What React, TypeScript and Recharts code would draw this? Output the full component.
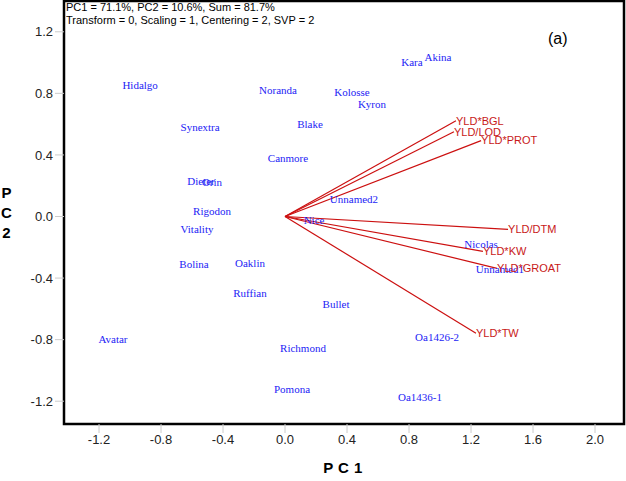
import { ReferenceArea, ReferenceLine, Scatter, ScatterChart, XAxis, YAxis } from "recharts";

const genotypes = [
  "Hidalgo", "Noranda", "Kolosse", "Kyron", "Kara", "Akina", "Synextra", "Blake", "Canmore",
  "Dieter", "Orin", "Rigodon", "Unnamed2", "Nice", "Vitality", "Bolina", "Oaklin", "Ruffian",
  "Bullet", "Nicolas", "Unnamed1", "Avatar", "Richmond", "Oa1426-2", "Pomona", "Oa1436-1",
];
const genoPC1 = [
  -0.935, -0.045, 0.432, 0.561, 0.819, 0.987, -0.548, 0.161, 0.019,
  -0.542, -0.471, -0.471, 0.445, 0.187, -0.568, -0.587, -0.226, -0.226,
  0.329, 1.265, 1.387, -1.11, 0.116, 0.981, 0.045, 0.871,
];
const genoPC2 = [
  0.855, 0.823, 0.81, 0.732, 1.005, 1.037, 0.583, 0.603, 0.376,
  0.227, 0.22, 0.032, 0.11, -0.026, -0.084, -0.311, -0.305, -0.499,
  -0.57, -0.181, -0.343, -0.797, -0.855, -0.784, -1.121, -1.173,
];

const traits = ["YLD*BGL", "YLD/LOD", "YLD*PROT", "YLD/DTM", "YLD*KW", "YLD*GROAT", "YLD*TW"];
const traitPC1 = [1.103, 1.09, 1.265, 1.439, 1.277, 1.368, 1.232];
const traitPC2 = [0.622, 0.551, 0.493, -0.084, -0.227, -0.337, -0.758];

const xTicks = [-1.2, -0.8, -0.4, 0.0, 0.4, 0.8, 1.2, 1.6, 2.0];
const yTicks = [-1.2, -0.8, -0.4, 0.0, 0.4, 0.8, 1.2];
const X_MIN = -1.426;
const X_MAX = 2.187;
const Y_MIN = -1.348;
const Y_MAX = 1.4;

const genoData = genotypes.map((name, i) => ({ name, x: genoPC1[i], y: genoPC2[i] }));
const traitData = traits.map((name, i) => ({ name, x: traitPC1[i], y: traitPC2[i] }));

const tickStyle = { fontFamily: "Liberation Sans, Arial, sans-serif", fontSize: 13, fill: "#222" };

function GenoLabel(props: any) {
  const { cx, cy, payload } = props;
  return (
    <text x={cx} y={cy} textAnchor="middle" dy="0.35em" fontFamily="Liberation Serif, Times New Roman, serif" fontSize={11} fill="#2323f5">
      {payload.name}
    </text>
  );
}

function TraitLabel(props: any) {
  const { cx, cy, payload } = props;
  return (
    <text x={cx} y={cy} textAnchor="start" dy="0.35em" fontFamily="Liberation Sans, Arial, sans-serif" fontSize={11} fill="#c81818">
      {payload.name}
    </text>
  );
}

export default function App() {
  return (
    <div style={{ position: "absolute", left: 0, top: 0, width: 626, height: 481, background: "#fff" }}>
      <ScatterChart width={626} height={481} margin={{ top: 1, right: 2, left: 0, bottom: 0 }}>
        <XAxis
          type="number"
          dataKey="x"
          domain={[X_MIN, X_MAX]}
          ticks={xTicks}
          tickFormatter={(v: number) => v.toFixed(1)}
          axisLine={false}
          tickLine={{ stroke: "#ccc" }}
          tickSize={9}
          tick={tickStyle}
          height={57}
          allowDataOverflow
        />
        <YAxis
          type="number"
          dataKey="y"
          domain={[Y_MIN, Y_MAX]}
          ticks={yTicks}
          tickFormatter={(v: number) => v.toFixed(1)}
          axisLine={false}
          tickLine={{ stroke: "#ccc" }}
          tickSize={9}
          tick={tickStyle}
          width={64}
          allowDataOverflow
        />
        <ReferenceArea x1={X_MIN} x2={X_MAX} y1={Y_MIN} y2={Y_MAX} fill="none" stroke="#000" strokeWidth={2.5} fillOpacity={0} />
        {traitData.map((t) => (
          <ReferenceLine
            key={t.name}
            segment={[{ x: 0, y: 0 }, { x: t.x, y: t.y }]}
            stroke="#cc1010"
            strokeWidth={1.2}
            ifOverflow="visible"
          />
        ))}
        <Scatter data={genoData} shape={GenoLabel} isAnimationActive={false} />
        <Scatter data={traitData} shape={TraitLabel} isAnimationActive={false} />
      </ScatterChart>
      <div style={{ position: "absolute", left: 66, top: 1, fontFamily: "Liberation Sans, Arial, sans-serif", fontSize: 11, lineHeight: "13px", color: "#000" }}>
        PC1 = 71.1%, PC2 = 10.6%, Sum = 81.7%
        <br />
        Transform = 0, Scaling = 1, Centering = 2, SVP = 2
      </div>
      <div style={{ position: "absolute", left: 548, top: 30, fontFamily: "Liberation Sans, Arial, sans-serif", fontSize: 16, color: "#000" }}>
        (a)
      </div>
      <div style={{ position: "absolute", left: 310, top: 459, width: 66, textAlign: "center", fontFamily: "Liberation Sans, Arial, sans-serif", fontSize: 15, fontWeight: "bold", letterSpacing: 0.5 }}>
        P C 1
      </div>
      <div style={{ position: "absolute", left: 0, top: 183, width: 13, textAlign: "center", fontFamily: "Liberation Sans, Arial, sans-serif", fontSize: 15, fontWeight: "bold", lineHeight: "20px" }}>
        P<br />C<br />2
      </div>
    </div>
  );
}
